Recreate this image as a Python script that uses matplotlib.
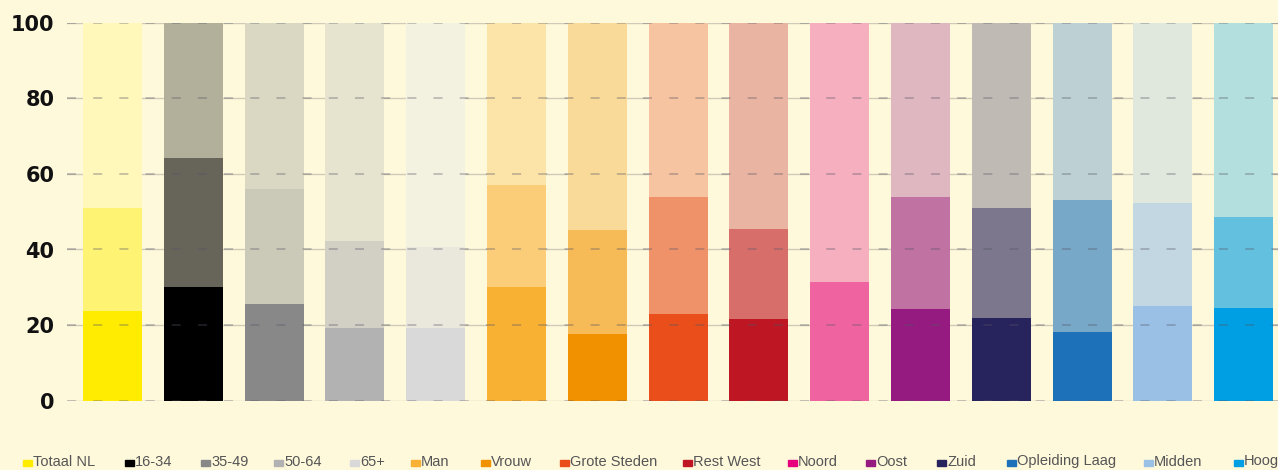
import matplotlib
matplotlib.use("Agg")
import matplotlib.pyplot as plt
from matplotlib.patches import Rectangle
import numpy as np

categories = ["Totaal NL", "16-34", "35-49", "50-64", "65+", "Man", "Vrouw",
              "Grote Steden", "Rest West", "Noord", "Oost", "Zuid",
              "Opleiding Laag", "Midden", "Hoog"]
seg_low = [23.7, 30.1, 25.6, 19.3, 19.3, 30.1, 17.6, 22.9, 21.6, 0.0, 24.3, 21.9, 18.2, 25.0, 24.5]
seg_mid = [27.3, 34.1, 30.3, 22.9, 21.3, 27.0, 27.6, 31.0, 23.8, 31.4, 29.5, 29.1, 34.8, 27.3, 24.0]
seg_top = [49.0, 35.8, 44.1, 57.8, 59.4, 42.9, 54.8, 46.1, 54.6, 68.6, 46.2, 49.0, 47.0, 47.7, 51.5]
y_ticks = [0, 20, 40, 60, 80, 100]

col_low = ["#FFEC00", "#000000", "#888888", "#B2B2B2", "#D9D9D9", "#F9B133", "#F29100",
           "#E94E1B", "#BE1622", "#E6007E", "#951B81", "#27235C", "#1D71B8", "#9BC0E6", "#009FE3"]
col_mid = ["#FFF373", "#67655A", "#CBCAB8", "#D2D0C4", "#EAE8DC", "#FBCD78", "#F6BA57",
           "#EF926A", "#D86E6A", "#EF64A0", "#C072A2", "#7D778D", "#78A8C8", "#C2D7E2", "#64C0DF"]
col_top = ["#FFF8BA", "#B2B09A", "#DAD8C2", "#E6E4CF", "#F3F1DF", "#FCE4A9", "#F9DA98",
           "#F7C4A1", "#EAB4A2", "#F6AFBF", "#DFB7C0", "#C0BAB5", "#BDD1D4", "#E0E8DE", "#B3DFDE"]

BG = "#FFF9DC"
W, H = 1278, 470
fig = plt.figure(figsize=(W / 100, H / 100), dpi=100, facecolor=BG)
ax = fig.add_axes([67 / W, 69.3 / H, 1 - 67 / W, 378 / H])
ax.set_facecolor(BG)

x = np.arange(len(categories))
low = np.array(seg_low)
mid = np.array(seg_mid)
top = np.array(seg_top)
bw = 0.73
ax.bar(x, low, width=bw, color=col_low, zorder=2, linewidth=0)
ax.bar(x, mid, bottom=low, width=bw, color=col_mid, zorder=2, linewidth=0)
ax.bar(x, top, bottom=low + mid, width=bw, color=col_top, zorder=2, linewidth=0)

# spacing ~80.8 px per bar; first center at 112.5 px
sp = 80.8
left_units = (112.5 - 67) / sp
right_units = (W - 67) / sp - left_units
ax.set_xlim(-left_units, right_units)
ax.set_ylim(0, 100)

for yv in y_ticks:
    ax.axhline(yv, color="#CFCBB8", linewidth=1.0, zorder=1)
    ax.axhline(yv, color="#555566", linewidth=1.3, alpha=0.35,
               linestyle=(0, (5, 9.5)), zorder=3)

ax.set_yticks(y_ticks)
ax.set_yticklabels([str(v) for v in y_ticks], fontsize=15, fontweight="bold",
                   family="DejaVu Sans", color="#111111")
ax.tick_params(axis="y", length=0, pad=9)
ax.set_xticks([])
for s in ax.spines.values():
    s.set_visible(False)

# legend drawn along the bottom
leg_x = [23, 125, 201, 274, 350, 411, 481, 560, 683, 788, 866, 937, 1007, 1144, 1234]
for xi, lab, c in zip(leg_x, categories, col_low):
    fig.patches.append(Rectangle((xi / W, (H - 466) / H), 9 / W, 6 / H,
                                 transform=fig.transFigure, color=c, figure=fig))
    fig.text((xi + 10) / W, (H - 461.5) / H, lab, fontsize=10.5,
             family=["Liberation Sans Narrow", "Liberation Sans", "DejaVu Sans"],
             color="#555555", va="center", ha="left")

fig.savefig("out.png", dpi=100, facecolor=BG)
